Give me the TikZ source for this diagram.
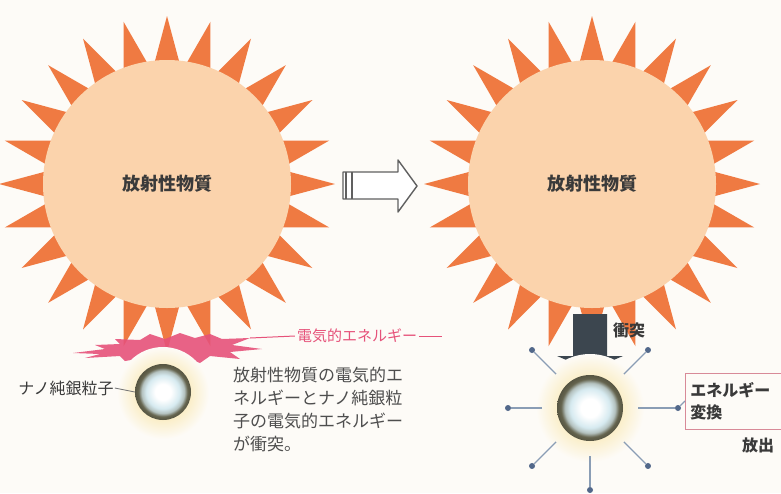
\documentclass[tikz,border=0pt]{standalone}
\usepackage{fontspec}
\newfontfamily\jp{Noto Sans CJK JP}
\usetikzlibrary{calc}
\definecolor{bg}{HTML}{FDFBF7}
\definecolor{sunfill}{HTML}{FBD3AC}
\definecolor{raycol}{HTML}{EF7A42}
\definecolor{ink}{HTML}{3A3A3A}
\definecolor{burst}{HTML}{E6527A}
\definecolor{glowcol}{HTML}{F7DC86}
\definecolor{pblue}{HTML}{D6EAF0}
\definecolor{rim}{HTML}{65644E}
\definecolor{spokecol}{HTML}{8A9DB5}
\definecolor{dotcol}{HTML}{52688A}
\definecolor{darkarrow}{HTML}{3C464F}
\definecolor{boxline}{HTML}{D88A98}
\pgfdeclareradialshading{silverball}{\pgfpoint{0bp}{0bp}}{%
  color(0bp)=(white); color(7bp)=(white); color(15bp)=(pblue);
  color(19bp)=(pblue!70!rim); color(22bp)=(rim); color(25bp)=(rim!85!black);
  color(50bp)=(rim!85!black)}
\tikzset{
  ray/.style={fill=raycol},
  sunbody/.style={circle, fill=sunfill, minimum size=248pt, inner sep=0pt,
    font=\jp\bfseries\fontsize{18}{20}\selectfont, text=ink},
  particle/.style={circle, shading=silverball, inner sep=0pt},
  glow/.style={inner color=glowcol, outer color=bg},
  jptext/.style={font=\jp\fontsize{#1}{#1}\selectfont, text=ink, inner sep=1pt},
  spoke/.style={draw=spokecol, line width=1.3pt},
  spokedot/.style={circle, fill=dotcol, minimum size=6pt, inner sep=0pt},
}
\begin{document}
\begin{tikzpicture}[x=1pt, y=-1pt]
\useasboundingbox (0,0) rectangle (781,493);
\fill[bg] (0,0) rectangle (781,493);

% ---- left sun ----
\coordinate (lc) at (167,184);
\foreach \a in {0,15,...,345}
  \fill[ray, shift={(lc)}] (\a:168) -- (\a+7:116) -- (\a-7:116) -- cycle;
\node[sunbody] (lsun) at (lc) {放射性物質};

% ---- right sun ----
\coordinate (rc) at (592,184);
\foreach \a in {0,15,...,345}
  \fill[ray, shift={(rc)}] (\a:168) -- (\a+7:116) -- (\a-7:116) -- cycle;
\node[sunbody] (rsun) at (rc) {放射性物質};

% ---- hollow arrow between the two states ----
\draw[gray!75!black, line width=1.4pt, fill=white, line join=round]
  (343,172) -- (398,172) -- (398,160) -- (417,186) -- (398,212)
  -- (398,199) -- (343,199) -- cycle;
\draw[gray!75!black, line width=2.2pt] (346,172) -- (346,199);
\draw[gray!75!black, line width=1.2pt] (352,172) -- (352,199);

% ---- electric energy burst (left) ----
\fill[burst, opacity=0.9]
  (73,353) -- (105,349) -- (95,345) -- (120,344) -- (115,339) -- (140,340)
  -- (150,334) -- (165,339) -- (180,333) -- (195,338) -- (210,334)
  -- (222,339) -- (250,338) -- (232,345) -- (262,349) -- (230,352)
  -- (240,359) -- (210,356) -- (200,363) -- (185,357) -- (165,364)
  -- (150,357) -- (125,361) -- (120,356) -- (85,358) -- (100,354) -- cycle;
\coordinate (bursttip) at (250,338);
\node[font=\jp\fontsize{15}{15}\selectfont, text=burst, inner sep=2pt]
  (elabel) at (357,336) {電気的エネルギー};
\coordinate (eend) at (442,336);
\draw[burst, line width=1pt] (bursttip) -- (elabel.west);
\draw[burst, line width=1pt] (elabel.east) -- (eend);

% ---- left nano silver particle ----
\shade[glow] (163,393) circle (46);
\node[particle, minimum size=56pt] (lpart) at (163,392) {};
\node[jptext=16] (llabel) at (66,388) {ナノ純銀粒子};
\draw[ink!70, line width=0.8pt] (llabel.east) -- (lpart.west);

\node[jptext=17, anchor=north west, align=left,
  font=\jp\fontsize{17}{23}\selectfont, text=ink!90] (desc) at (232,366)
  {放射性物質の電気的エ\\ネルギーとナノ純銀粒\\子の電気的エネルギー\\が衝突。};

% ---- collision arrow (right) ----
\fill[darkarrow] (573,314) -- (607,314) -- (607,356) -- (623,356)
  -- (590,370) -- (557,356) -- (573,356) -- cycle;
\node[jptext=16, anchor=west, font=\jp\bfseries\fontsize{16}{16}\selectfont]
  (hit) at (612,330) {衝突};

% ---- right nano silver particle with emitted energy ----
\shade[glow] (590,408) circle (54);
\node[particle, minimum size=66pt] (rpart) at (590,408) {};
\foreach \ang/\name in {180/dl, 225/dul, 315/dur, 135/ddl, 45/ddr, 90/dd}{
  \node[spokedot] (\name) at ($(rpart)+(\ang:82)$) {};
  \draw[spoke] ($(rpart)+(\ang:48)$) -- (\name);
}
\node[spokedot] (dr) at (678,408) {};
\draw[spoke] ($(rpart)+(0:48)$) -- (dr);

\node[draw=boxline, line width=0.8pt, anchor=west, align=left,
  font=\jp\bfseries\fontsize{16}{22}\selectfont, text=ink,
  minimum height=56pt, text width=110pt, inner sep=5pt] (conv) at (685,401)
  {エネルギー\\変換};
\draw[spoke] (dr) -- (conv.west);
\node[jptext=16, anchor=west, font=\jp\bfseries\fontsize{16}{16}\selectfont]
  (emit) at (741,445) {放出};
\end{tikzpicture}
\end{document}
